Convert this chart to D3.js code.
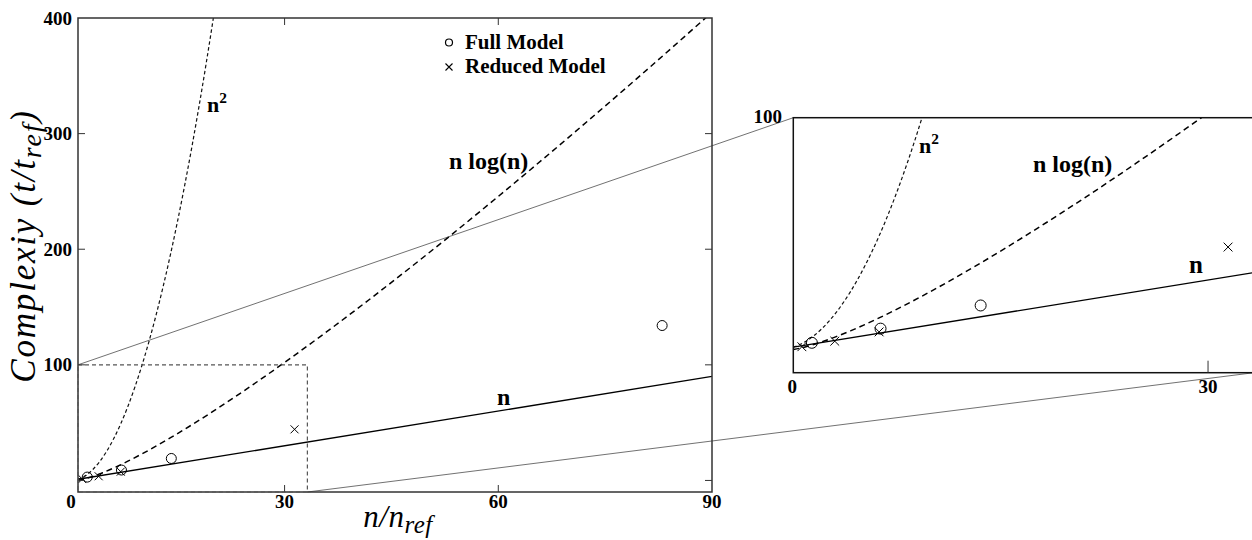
<!DOCTYPE html>
<html lang="en">
<head>
    <meta charset="UTF-8">
    <title>Complexity</title>
    <script src="https://d3js.org/d3.v7.min.js"></script>
    <style>
        body { margin: 0; background: #fff; }
        text { font-family: "Liberation Serif", "Times New Roman", serif; }
    </style>
</head>
<body>
    <svg width="1252" height="540"></svg>

    <script>
        // measured points
        const fullX = [2.3, 7.1, 14.1, 83];
        const fullY = [2.9, 9.0, 19.0, 134];
        const redX = [1.6, 3.9, 7.0, 31.4];
        const redY = [1.2, 3.6, 7.6, 44.2];

        // reference curves
        const sqX = [1, 1.5, 2, 3, 4, 5, 6, 7, 8, 9, 10, 11, 12, 14, 16, 18, 20, 21];
        const sqY = [1, 2.25, 4, 9, 16, 25, 36, 49, 64, 81, 100, 121, 144, 196, 256, 324, 400, 441];
        const nlX = [1, 1.5, 2, 3, 4, 5, 6, 8, 10, 12, 14, 16, 20, 25, 30, 35, 40, 50, 60, 70, 80, 90];
        const nlY = [0, 0.61, 1.39, 3.3, 5.55, 8.05, 10.75, 16.64, 23.03, 29.82, 36.95, 44.36, 59.91,
                     80.47, 102.04, 124.44, 147.56, 195.6, 245.66, 297.4, 350.56, 404.98];
        const linX = [1, 90];
        const linY = [1, 90];

        const xTicks = [0, 30, 60, 90];
        const yTicks = [100, 200, 300, 400];
        const zoomBox = {x0: 1, x1: 33.2, y0: -10, y1: 100};

        const svg = d3.select("svg");

        const xMain = d3.scaleLinear().domain([1, 90]).range([78, 712]);
        const yMain = d3.scaleLinear().domain([-10, 400]).range([492, 18]);
        const xIn = d3.scaleLinear().domain([zoomBox.x0, zoomBox.x1]).range([793.3, 1253.8]);
        const yIn = d3.scaleLinear().domain([zoomBox.y0, zoomBox.y1]).range([372.7, 117.7]);

        const defs = svg.append("defs");

        function zip(a, b) { return a.map((v, i) => [v, b[i]]); }

        function drawPanel(id, x, y, opt) {
            defs.append("clipPath").attr("id", id)
                .append("rect")
                .attr("x", x.range()[0]).attr("y", y.range()[1])
                .attr("width", x.range()[1] - x.range()[0])
                .attr("height", y.range()[0] - y.range()[1]);

            const g = svg.append("g");
            const plot = g.append("g").attr("clip-path", `url(#${id})`);
            const line = d3.line().x(d => x(d[0])).y(d => y(d[1])).curve(d3.curveMonotoneX);

            plot.append("path").datum(zip(sqX, sqY))
                .attr("d", line).attr("fill", "none")
                .attr("stroke", "#111").attr("stroke-width", 1.2)
                .attr("stroke-dasharray", "3.5,2.5");
            plot.append("path").datum(zip(nlX, nlY))
                .attr("d", line).attr("fill", "none")
                .attr("stroke", "#000").attr("stroke-width", 1.5)
                .attr("stroke-dasharray", "6,4");
            plot.append("path").datum(zip(linX, linY))
                .attr("d", line).attr("fill", "none")
                .attr("stroke", "#000").attr("stroke-width", 1.3);

            plot.selectAll(".full").data(zip(fullX, fullY)).join("circle")
                .attr("cx", d => x(d[0])).attr("cy", d => y(d[1]))
                .attr("r", opt.r).attr("fill", "none")
                .attr("stroke", "#000").attr("stroke-width", 1);
            const s = opt.r * 0.8;
            plot.selectAll(".red").data(zip(redX, redY)).join("path")
                .attr("d", d => `M${x(d[0]) - s},${y(d[1]) - s}L${x(d[0]) + s},${y(d[1]) + s}` +
                               `M${x(d[0]) - s},${y(d[1]) + s}L${x(d[0]) + s},${y(d[1]) - s}`)
                .attr("stroke", "#000").attr("stroke-width", 1);

            // curve labels
            const lab = opt.labels;
            const sq = g.append("text").attr("x", lab.sq[0]).attr("y", lab.sq[1])
                .attr("font-size", lab.sq[2]).attr("font-weight", "bold");
            sq.append("tspan").text("n");
            sq.append("tspan").text("2").attr("font-size", lab.sq[2] * 0.7).attr("dy", -lab.sq[2] * 0.4);
            g.append("text").attr("x", lab.nl[0]).attr("y", lab.nl[1])
                .attr("font-size", lab.nl[2]).attr("font-weight", "bold").text("n log(n)");
            g.append("text").attr("x", lab.n[0]).attr("y", lab.n[1])
                .attr("font-size", lab.n[2]).attr("font-weight", "bold").text("n");
            return g;
        }

        // ---- main panel ----
        const main = drawPanel("clipMain", xMain, yMain, {
            r: 5,
            labels: {sq: [207, 112, 22], nl: [449, 169, 24], n: [497, 405, 24]}
        });

        main.append("rect")
            .attr("x", 78).attr("y", 18).attr("width", 634).attr("height", 474)
            .attr("fill", "none").attr("stroke", "#333").attr("stroke-width", 1.5);

        const tk = 7;
        xTicks.filter(v => v > 1 && v < 90).forEach(v => {
            main.append("line").attr("x1", xMain(v)).attr("x2", xMain(v))
                .attr("y1", 492).attr("y2", 492 - tk).attr("stroke", "#333");
            main.append("line").attr("x1", xMain(v)).attr("x2", xMain(v))
                .attr("y1", 18).attr("y2", 18 + tk).attr("stroke", "#333");
        });
        [0, 100, 200, 300].forEach(v => {
            main.append("line").attr("x1", 78).attr("x2", 78 + tk)
                .attr("y1", yMain(v)).attr("y2", yMain(v)).attr("stroke", "#333");
            main.append("line").attr("x1", 712).attr("x2", 712 - tk)
                .attr("y1", yMain(v)).attr("y2", yMain(v)).attr("stroke", "#333");
        });
        main.selectAll(".xl").data(xTicks).join("text")
            .attr("x", d => xMain(d)).attr("y", 508)
            .attr("text-anchor", "middle").attr("font-size", 19).attr("font-weight", "bold")
            .text(d => d);
        main.selectAll(".yl").data(yTicks).join("text")
            .attr("x", 72).attr("y", d => yMain(d)).attr("dy", "0.35em")
            .attr("text-anchor", "end").attr("font-size", 19).attr("font-weight", "bold")
            .text(d => d);

        // axis titles
        const yt = svg.append("text")
            .attr("transform", "translate(35,246) rotate(-90)")
            .attr("text-anchor", "middle").attr("font-size", 35).attr("font-style", "italic")
            .attr("letter-spacing", 1.8);
        yt.append("tspan").text("Complexiy (t/t");
        yt.append("tspan").text("ref").attr("font-size", 28).attr("dy", 6);
        yt.append("tspan").text(")").attr("dy", -6);

        const xt = svg.append("text")
            .attr("x", 398).attr("y", 527)
            .attr("text-anchor", "middle").attr("font-size", 31).attr("font-style", "italic")
            .attr("letter-spacing", 0.5);
        xt.append("tspan").text("n/n");
        xt.append("tspan").text("ref").attr("font-size", 25).attr("dy", 6);

        // legend
        const leg = svg.append("g");
        leg.append("circle").attr("cx", 449).attr("cy", 42.5).attr("r", 3.5)
            .attr("fill", "none").attr("stroke", "#000").attr("stroke-width", 1.2);
        leg.append("path").attr("d", "M445.5,63.5L452.5,70.5M445.5,70.5L452.5,63.5")
            .attr("stroke", "#000").attr("stroke-width", 1.1);
        leg.append("text").attr("x", 465).attr("y", 49).attr("font-size", 21)
            .attr("font-weight", "bold").text("Full Model");
        leg.append("text").attr("x", 465).attr("y", 73).attr("font-size", 21)
            .attr("font-weight", "bold").text("Reduced Model");

        // zoom box in main panel
        svg.append("rect")
            .attr("x", xMain(zoomBox.x0)).attr("y", yMain(zoomBox.y1))
            .attr("width", xMain(zoomBox.x1) - xMain(zoomBox.x0))
            .attr("height", yMain(zoomBox.y0) - yMain(zoomBox.y1))
            .attr("fill", "none").attr("stroke", "#555").attr("stroke-width", 1.2)
            .attr("stroke-dasharray", "4,3");

        // connectors
        svg.append("line")
            .attr("x1", xMain(zoomBox.x0)).attr("y1", yMain(zoomBox.y1))
            .attr("x2", xIn(zoomBox.x0)).attr("y2", yIn(zoomBox.y1))
            .attr("stroke", "#333").attr("stroke-width", 0.7);
        svg.append("line")
            .attr("x1", xMain(zoomBox.x1)).attr("y1", yMain(zoomBox.y0))
            .attr("x2", xIn(zoomBox.x1)).attr("y2", yIn(zoomBox.y0))
            .attr("stroke", "#333").attr("stroke-width", 0.7);

        // ---- inset panel ----
        const inset = drawPanel("clipIn", xIn, yIn, {
            r: 5.5,
            labels: {sq: [919, 153, 22], nl: [1033, 172, 24], n: [1189, 273, 25]}
        });
        inset.append("rect")
            .attr("x", xIn.range()[0]).attr("y", yIn.range()[1])
            .attr("width", xIn.range()[1] - xIn.range()[0])
            .attr("height", yIn.range()[0] - yIn.range()[1])
            .attr("fill", "none").attr("stroke", "#111").attr("stroke-width", 1.5);
        inset.append("line").attr("x1", xIn(30)).attr("x2", xIn(30))
            .attr("y1", yIn.range()[0]).attr("y2", yIn.range()[0] - 12).attr("stroke", "#333");
        inset.append("text").attr("x", xIn(30)).attr("y", 393)
            .attr("text-anchor", "middle").attr("font-size", 19).attr("font-weight", "bold").text("30");
        inset.append("text").attr("x", xIn(zoomBox.x0) - 1).attr("y", 393)
            .attr("text-anchor", "middle").attr("font-size", 19).attr("font-weight", "bold").text("0");
        inset.append("text").attr("x", 782).attr("y", yIn(100)).attr("dy", "0.3em")
            .attr("text-anchor", "end").attr("font-size", 19).attr("font-weight", "bold").text("100");
    </script>
</body>
</html>
